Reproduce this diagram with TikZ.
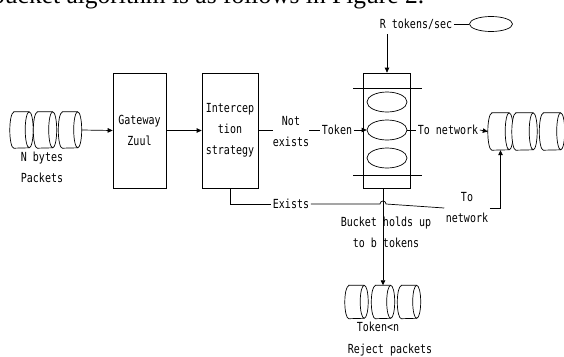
\documentclass[tikz,border=0pt]{standalone}
\usepackage{fontspec}
\setmainfont{DejaVu Sans Mono}[FakeStretch=0.8]
\newfontfamily\capfont{Liberation Serif}
\usetikzlibrary{shapes.geometric,arrows.meta,calc}
\newcommand\mycyl[5]{%
  \node[minimum width=#4,minimum height=#5,inner sep=0pt] (#1) at (#2,#3) {};
  \draw[ln,fill=white] ($(#1.north west)+(4pt,0)$) -- ($(#1.north east)+(-4pt,0)$)
    arc[start angle=90,end angle=-90,x radius=4pt,y radius=#5/2]
    -- ($(#1.south west)+(4pt,0)$)
    arc[start angle=270,end angle=90,x radius=4pt,y radius=#5/2] -- cycle;
  \draw[ln] ($(#1.north east)+(-4pt,0)$) arc[start angle=90,end angle=270,x radius=4pt,y radius=#5/2];
}
\begin{document}
\begin{tikzpicture}[x=1pt,y=-1pt,
  lbl/.style={inner sep=1.5pt,align=center,font=\fontsize{12.5}{21}\selectfont},
  boxn/.style={draw,line width=0.7pt,minimum width=#1,minimum height=115pt,inner sep=0pt},
  tok/.style={ellipse,draw,line width=0.7pt,minimum width=40pt,minimum height=20pt,inner sep=0pt},
  ln/.style={line width=0.7pt},
  arr/.style={line width=0.7pt,-{Triangle[length=5pt,width=4.5pt]}}]
\useasboundingbox (0,0) rectangle (564,356);
\clip (0,0) rectangle (564,356);
% partial caption line at top
\node[anchor=base west,inner sep=0pt,font=\fontsize{25.5}{28}\selectfont\capfont] (cap) at (-8,3.5) {bucket algorithm is as follows in Figure 2.};
% left packets
\mycyl{pk1}{21.5}{130}{23pt}{36pt}
\mycyl{pk2}{45}{130}{23pt}{36pt}
\mycyl{pk3}{70}{130}{23pt}{36pt}
\node[lbl] (pkl) at (42,167) {N bytes\\Packets};
% boxes
\node[boxn=53pt,lbl,inner sep=0pt] (gw) at (139.5,130.5) {Gateway\\Zuul};
\node[boxn=56pt,lbl,inner sep=0pt] (ic) at (230,130.5) {Intercep\\tion\\strategy};
\draw[arr] (pk3.east) -- (gw.west);
\draw[arr] (gw.east) -- (ic.west);
% not exists / token
\node[lbl,inner sep=0pt] (ne) at (291,132) {Not\\exists};
\node[lbl] (tk) at (337,130) {Token};
\draw[ln] (ic.east) -- (ic.east -| ne.west);
\draw[ln] (ne.east |- tk.west) -- (tk.west);
% bucket
\node[boxn=47pt] (bk) at (386.5,130.5) {};
\coordinate (bl1a) at (353,88); \coordinate (bl1b) at (422,88);
\coordinate (bl2a) at (353,175); \coordinate (bl2b) at (422,175);
\draw[ln] (bl1a) -- (bl1b);
\draw[ln] (bl2a) -- (bl2b);
\node[tok] (e1) at (387,102) {};
\node[tok] (e2) at (387,130) {};
\node[tok] (e3) at (387,158) {};
\draw[arr] (tk.east) -- (e2.west);
% rate
\node[lbl] (rt) at (416,24) {R tokens/sec};
\node[ellipse,draw,line width=0.7pt,minimum width=43pt,minimum height=15pt,inner sep=0pt] (src) at (491,24) {};
\draw[ln] (rt.east) -- (src.west);
\coordinate (topc) at (387,34);
\draw[arr] (topc) -- (topc |- bk.north);
% to network
\node[lbl] (tn) at (448,130) {To network};
\draw[ln] (e2.east) -- (tn.west);
\mycyl{rc1}{500.5}{131.5}{25pt}{37pt}
\mycyl{rc2}{524.5}{131.5}{25pt}{37pt}
\mycyl{rc3}{552}{131.5}{25pt}{37pt}
\draw[arr] (tn.east) -- (rc1.west);
% exists path
\node[lbl] (ex) at (291,204) {Exists};
\node[lbl] (tn2) at (467,208) {To\\network};
\draw[ln] (ic.south) |- (ex.west);
% reject
\mycyl{rj1}{356.5}{302}{23pt}{33pt}
\mycyl{rj2}{383}{302}{23pt}{33pt}
\mycyl{rj3}{409}{302}{23pt}{33pt}
\coordinate (hop) at (ex.east -| rj2.north);
\draw[ln] (ex.east) -- ($(hop)+(-3,0)$) arc[start angle=180,end angle=0,radius=3pt] -- (tn2.west);
\draw[arr] (bk.south -| rj2.north) -- (rj2.north);
\draw[arr] (tn2.east) -| (rc1.south);
\node[lbl] (bh) at (386,232) {Bucket holds up\\to b tokens};
\node[lbl] (tkn) at (378,327) {Token<n};
\node[lbl] (rp) at (390,350) {Reject packets};
\end{tikzpicture}
\end{document}
